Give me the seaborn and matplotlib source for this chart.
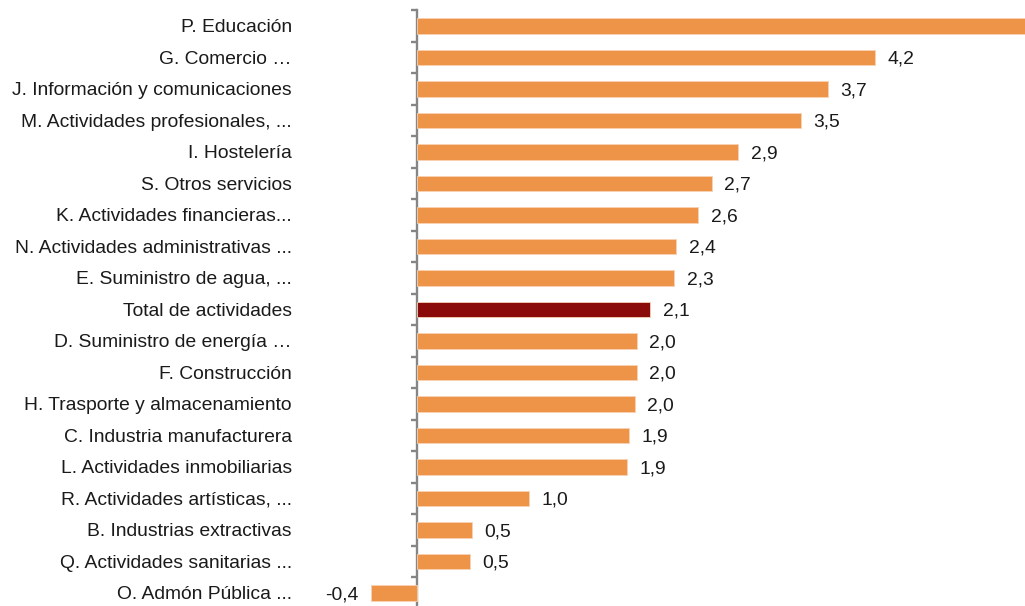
import matplotlib
matplotlib.use("Agg")
import matplotlib.pyplot as plt
import seaborn as sns
import numpy as np
import pandas as pd

# --- datos ---
categorias = [
    "P. Educación",
    "G. Comercio …",
    "J. Información y comunicaciones",
    "M. Actividades profesionales, ...",
    "I. Hostelería",
    "S. Otros servicios",
    "K. Actividades financieras...",
    "N. Actividades administrativas ...",
    "E. Suministro de agua, ...",
    "Total de actividades",
    "D. Suministro de energía …",
    "F. Construcción",
    "H. Trasporte y almacenamiento",
    "C. Industria manufacturera",
    "L. Actividades inmobiliarias",
    "R. Actividades artísticas, ...",
    "B. Industrias extractivas",
    "Q. Actividades sanitarias ...",
    "O. Admón Pública ...",
]
valores = [6.0, 4.17, 3.74, 3.49, 2.92, 2.68, 2.56, 2.36, 2.34, 2.12,
           2.00, 2.00, 1.98, 1.93, 1.91, 1.02, 0.50, 0.48, -0.42]
etiquetas = ["", "4,2", "3,7", "3,5", "2,9", "2,7", "2,6", "2,4", "2,3", "2,1",
             "2,0", "2,0", "2,0", "1,9", "1,9", "1,0", "0,5", "0,5", "-0,4"]

NARANJA = "#EE9449"
ROJO = "#8B0B0B"
TEXTO = "#1a1a1a"

sns.set_theme(style="white")
plt.rcParams["font.family"] = ["Liberation Sans", "DejaVu Sans"]

df = pd.DataFrame({"cat": categorias, "val": valores})
colores = {c: (ROJO if c == "Total de actividades" else NARANJA) for c in categorias}

fig = plt.figure(figsize=(10.25, 6.06), dpi=100)
ax = fig.add_axes([307 / 1025, -0.0045, 1 - 307 / 1025, 0.9876])

sns.barplot(data=df, x="val", y="cat", hue="cat", palette=colores, legend=False,
            orient="h", width=0.5, ax=ax, edgecolor="#F6D2B4", linewidth=0.6,
            saturation=1)

xmin, xmax = -1.0, 5.53
ax.set_xlim(xmin, xmax)
ax.set_ylim(len(categorias) - 0.5, -0.5)

for cont, lab in zip(ax.containers, etiquetas):
    textos = ax.bar_label(cont, labels=[lab], padding=9, fontsize=13.9, color=TEXTO)
    for t in textos:
        t.set_va("center_baseline")

# etiquetas de categoría a la izquierda del área de trazado
ax.set_xlabel("")
ax.set_ylabel("")
ax.set_xticks([])
ax.tick_params(axis="y", length=0, pad=11, labelsize=13.9, labelcolor=TEXTO)
for s in ax.spines.values():
    s.set_visible(False)

# eje vertical en el cero, con marcas entre categorías
loc0 = (0 - xmin) / (xmax - xmin)
eje = ax.secondary_yaxis(loc0)
eje.set_yticks(np.arange(len(categorias) + 1) - 0.5)
eje.set_yticklabels([])
eje.spines["left"].set_color("#858585")
eje.spines["left"].set_linewidth(1.7)
eje.tick_params(axis="y", length=4, width=1.7, color="#858585", direction="out")

fig.savefig("out.png", dpi=100)
